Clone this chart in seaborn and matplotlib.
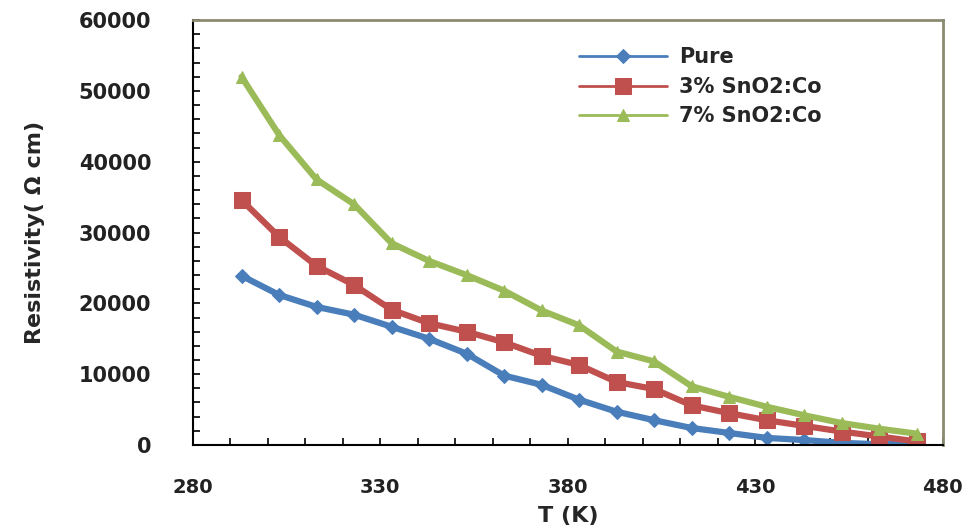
import numpy as np
import pandas as pd
import seaborn as sns
import matplotlib.pyplot as plt
from matplotlib.ticker import MultipleLocator

temps = [293, 303, 313, 323, 333, 343, 353, 363, 373, 383,
         393, 403, 413, 423, 433, 443, 453, 463, 473]
pure = [23900, 21200, 19500, 18400, 16700, 15000, 12900, 9800, 8500, 6400,
        4700, 3500, 2400, 1700, 1000, 700, 300, 100, 200]
co3 = [34600, 29400, 25300, 22600, 19100, 17200, 16000, 14500, 12600, 11300,
       8900, 7900, 5600, 4500, 3500, 2700, 1900, 1200, 500]
co7 = [52000, 43800, 37500, 34000, 28500, 26000, 24000, 21800, 19000, 16900,
       13200, 11800, 8300, 6800, 5400, 4200, 3100, 2300, 1600]
labels = ['Pure', '3% SnO2:Co', '7% SnO2:Co']
xticks = [280, 330, 380, 430, 480]

sns.set_style('ticks')
plt.rcParams['font.family'] = ['DejaVu Sans']
plt.rcParams['font.weight'] = 'bold'

df = pd.DataFrame({
    'T': temps * 3,
    'rho': pure + co3 + co7,
    'sample': [labels[0]] * len(temps) + [labels[1]] * len(temps) + [labels[2]] * len(temps),
})

colors = ['#4a7ebb', '#c0504d', '#9bbb59']
markers = ['D', 's', '^']
msizes = [7, 11, 8]

fig = plt.figure(figsize=(9.64, 5.31), dpi=100)
ax = fig.add_axes([0.2, 0.162, 0.778, 0.8])

for lab, c, m, ms in zip(labels, colors, markers, msizes):
    sns.lineplot(data=df[df['sample'] == lab], x='T', y='rho', color=c, marker=m,
                 markersize=ms, markeredgecolor=c, linewidth=4.5, label=lab, ax=ax)

ax.set_xlim(280, 480)
ax.set_ylim(0, 60000)
ax.set_xticks(xticks)
ax.xaxis.set_minor_locator(MultipleLocator(10))
ax.yaxis.set_major_locator(MultipleLocator(10000))
ax.yaxis.set_minor_locator(MultipleLocator(2000))
ax.tick_params(which='both', direction='in', length=5, width=1.2, colors='black')
ax.tick_params(axis='y', which='major', pad=30, labelsize=15)
ax.tick_params(axis='x', which='major', pad=24, labelsize=14)
for lab in ax.get_xticklabels() + ax.get_yticklabels():
    lab.set_fontweight('bold')
    lab.set_color('#222222')

for side in ['left', 'bottom']:
    ax.spines[side].set_color('black')
    ax.spines[side].set_linewidth(1.5)
for side in ['top', 'right']:
    ax.spines[side].set_color('#8b8b70')
    ax.spines[side].set_linewidth(2)

ax.set_xlabel('T (K)', fontsize=16, fontweight='bold', labelpad=6)
ax.set_ylabel('Resistivity( \u03a9 cm)', fontsize=16, fontweight='bold', labelpad=24)

leg = ax.legend(frameon=False, loc='upper left', bbox_to_anchor=(0.49, 0.98),
                fontsize=15, handlelength=4.2, handletextpad=0.6, labelspacing=0.45)
for t in leg.get_texts():
    t.set_fontweight('bold')
for h in leg.legend_handles:
    h.set_linewidth(2)

fig.savefig('out.png', dpi=100)
